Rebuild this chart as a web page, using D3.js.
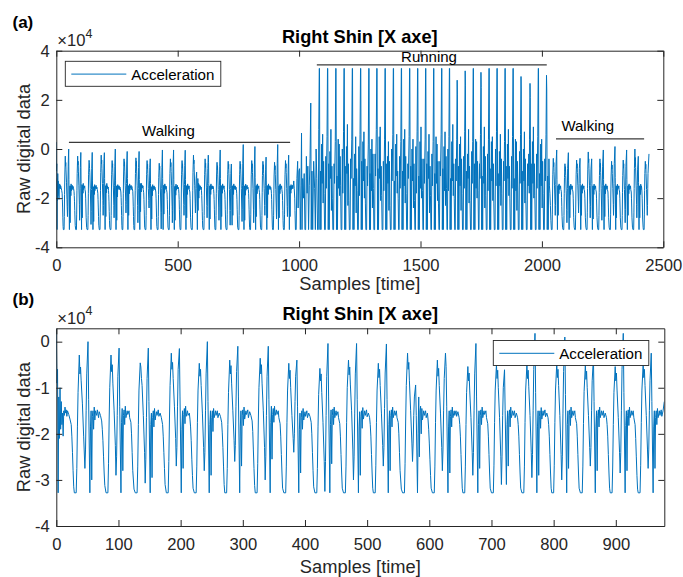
<!DOCTYPE html>
<html><head><meta charset="utf-8">
<script src="https://cdn.jsdelivr.net/npm/d3@7"></script>
<style>
html,body{margin:0;padding:0;background:#fff;}
svg{display:block;font-family:"Liberation Sans",Arial,Helvetica,sans-serif;}
</style></head><body>
<svg id="fig" width="683" height="577"></svg>
<script>
// Right shin accelerometer, X axis.
// Flat lists of [sample, value] pairs; values are in units of 100 counts.
const walking1 = [
0,28, 1,-90, 2,-60, 3,-328, 4,-120, 5,-210, 6,-100, 7,-190, 8,-130, 9,-180, 10,-155, 11,-205, 12,-150, 13,-160, 14,-142, 15,-155, 16,-148, 17,-162, 18,-150, 20,-158, 22,-168, 24,-180, 25,-205, 26,-240, 27,-280, 28,-315,
29,-328, 32,-328, 33,-275, 34,-185, 35,-110, 37,-29, 38,-70, 39,-55, 40,-85, 42,-135, 44,-205, 46,-275, 47,-235, 48,-150, 49,-70, 51,0, 52,-125, 54,-328, 55,-185, 56,-150, 57,-300, 58,-162, 59,-150, 60,-190, 61,-142, 62,-170, 63,-150, 65,-160, 66,-148, 68,-165, 69,-152, 71,-160, 73,-172, 74,-190, 75,-215, 76,-250, 77,-285, 78,-312,
80,-328, 83,-328, 84,-265, 85,-170, 86,-100, 88,-29, 89,-65, 90,-50, 91,-90, 93,-150, 95,-225, 96,-290, 97,-250, 98,-160, 99,-75, 101,-14, 102,-140, 104,-328, 105,-175, 106,-145, 107,-280, 108,-160, 109,-148, 110,-180, 111,-140, 112,-165, 114,-150, 115,-158, 117,-150, 118,-165, 120,-175, 121,-200, 122,-240, 123,-280, 125,-320,
127,-328, 130,-328, 131,-270, 132,-180, 133,-105, 135,-46, 136,-55, 137,-80, 138,-95, 140,-160, 142,-240, 143,-307, 144,-255, 145,-165, 146,-80, 148,-14, 149,-130, 151,-328, 152,-180, 153,-155, 154,-295, 155,-165, 156,-150, 157,-185, 158,-145, 159,-170, 161,-152, 162,-160, 164,-148, 165,-162, 167,-155, 169,-165, 171,-180, 172,-205, 173,-240, 174,-275, 175,-310,
177,-328, 180,-328, 181,-260, 182,-170, 183,-95, 185,-25, 186,-60, 187,-45, 188,-80, 190,-140, 192,-210, 193,-270, 194,-230, 195,-140, 196,-60, 198,-15, 199,-120, 201,-328, 202,-190, 203,-150, 204,-275, 205,-158, 206,-145, 207,-178, 208,-140, 209,-162, 211,-150, 212,-160, 214,-155, 215,-168, 216,-185, 217,-215, 218,-255, 219,-290, 220,-318,
222,-328, 225,-328, 226,-270, 227,-175, 228,-105, 230,-47, 231,-75, 232,-60, 233,-95, 235,-155, 237,-230, 238,-280, 239,-240, 240,-150, 241,-70, 243,0, 244,-130, 246,-328, 247,-180, 248,-150, 249,-290, 250,-165, 251,-150, 252,-195, 253,-145, 254,-165, 256,-150, 257,-160, 259,-150, 260,-165, 262,-155, 264,-162, 266,-175, 267,-198, 268,-230, 269,-270, 270,-310,
271,-328, 274,-328, 275,-275, 276,-180, 277,-110, 279,-40, 280,-70, 281,-52, 282,-90, 284,-150, 286,-215, 287,-260, 288,-225, 289,-140, 290,-65, 292,-10, 293,-120, 295,-328, 296,-185, 297,-150, 298,-270, 299,-160, 300,-148, 301,-182, 302,-142, 303,-168, 305,-150, 306,-158, 308,-148, 309,-165, 311,-152, 313,-160, 315,-172, 316,-195, 317,-235, 318,-275, 319,-312,
320,-328, 323,-328, 324,-265, 325,-170, 326,-100, 328,-36, 329,-70, 330,-50, 331,-90, 333,-150, 335,-230, 336,-300, 337,-250, 338,-160, 339,-75, 341,-10, 342,-125, 344,-328, 345,-175, 346,-140, 347,-255, 348,-158, 349,-145, 350,-175, 351,-140, 352,-160, 354,-148, 355,-158, 357,-150, 358,-165, 360,-178, 361,-205, 362,-245, 363,-285, 364,-318,
366,-328, 369,-328, 370,-270, 371,-175, 372,-105, 374,-47, 375,-80, 376,-62, 377,-100, 379,-160, 381,-210, 382,-240, 383,-200, 384,-130, 385,-75, 387,-40, 388,-140, 390,-328, 391,-190, 392,-155, 393,-285, 394,-165, 395,-150, 396,-190, 397,-145, 398,-170, 400,-152, 401,-162, 403,-150, 404,-165, 406,-155, 408,-162, 410,-175, 411,-200, 412,-240, 413,-280, 414,-315,
416,-328, 419,-328, 420,-275, 421,-185, 422,-115, 424,-58, 425,-85, 426,-70, 427,-110, 429,-175, 431,-260, 432,-325, 433,-260, 434,-160, 435,-75, 437,-4, 438,-120, 440,-328, 441,-180, 442,-148, 443,-265, 444,-160, 445,-146, 446,-180, 447,-142, 448,-165, 450,-150, 451,-160, 453,-152, 454,-165, 456,-178, 457,-205, 458,-245, 459,-285, 460,-318,
462,-328, 465,-328, 466,-270, 467,-175, 468,-100, 470,-40, 471,-72, 472,-55, 473,-92, 475,-150, 477,-235, 478,-300, 479,-250, 480,-155, 481,-70, 483,-4, 484,-125, 486,-328, 487,-185, 488,-152, 489,-290, 490,-162, 491,-150, 492,-188, 493,-143, 494,-168, 496,-150, 497,-160, 499,-148, 500,-163, 502,-155, 504,-165, 505,-180, 506,-205, 507,-245, 508,-285, 509,-318,
510,-328, 513,-328, 514,-268, 515,-175, 516,-105, 518,-47, 519,-78, 520,-60, 521,-95, 523,-155, 525,-225, 526,-270, 527,-230, 528,-145, 529,-68, 531,-5, 532,-125, 534,-328, 535,-180, 536,-150, 537,-280, 538,-160, 539,-148, 540,-185, 541,-142, 542,-165, 544,-150, 545,-160, 547,-150, 548,-165, 550,-175, 551,-200, 552,-240, 553,-280, 555,-320,
557,-328, 560,-328, 561,-265, 562,-170, 563,-95, 565,-25, 566,-60, 567,-45, 568,-85, 570,-150, 572,-220, 573,-260, 574,-220, 575,-160, 576,-120, 578,-94, 579,-160, 581,-328, 582,-200, 583,-120, 584,-250, 585,-150, 586,-140, 587,-200, 588,-145, 589,-170, 591,-150, 592,-160, 594,-150, 595,-165, 597,-155, 598,-170, 599,-190, 600,-220, 601,-255, 602,-290, 603,-318,
605,-328, 608,-328, 609,-270, 610,-175, 611,-105, 613,-40, 614,-75, 615,-58, 616,-95, 618,-155, 620,-230, 621,-280, 622,-235, 623,-150, 624,-80, 626,-25, 627,-54, 628,-140, 630,-328, 631,-185, 632,-150, 633,-285, 634,-162, 635,-148, 636,-185, 637,-142, 638,-165, 640,-150, 641,-160, 643,-150, 644,-162, 646,-152, 648,-165, 649,-180, 650,-205, 651,-245, 652,-285, 653,-318,
654,-328, 657,-328, 658,-270, 659,-180, 660,-110, 662,-54, 663,-85, 664,-68, 665,-105, 667,-165, 669,-240, 670,-290, 671,-240, 672,-150, 673,-70, 675,-4, 676,-120, 678,-328, 679,-180, 680,-150, 681,-275, 682,-160, 683,-148, 684,-180, 685,-142, 686,-165, 688,-150, 689,-158, 691,-150, 692,-165, 694,-178, 695,-205, 696,-245, 697,-285, 698,-318,
700,-328, 703,-328, 704,-268, 705,-175, 706,-105, 708,-50, 709,-80, 710,-62, 711,-100, 713,-165, 715,-250, 716,-310, 717,-250, 718,-160, 719,-100, 721,-61, 722,-150, 724,-310, 725,-180, 726,-150, 727,-270, 728,-160, 729,-148, 730,-185, 731,-142, 732,-165, 734,-150, 735,-160, 737,-150, 738,-165, 740,-155, 742,-165, 743,-180, 744,-205, 745,-245, 746,-285, 747,-318,
749,-328, 752,-328, 753,-270, 754,-175, 755,-105, 757,-50, 758,-80, 759,-62, 760,-98, 762,-160, 764,-240, 765,-295, 766,-245, 767,-150, 768,-60, 770,18, 771,-110, 773,-328, 774,-185, 775,-150, 776,-290, 777,-162, 778,-150, 779,-188, 780,-143, 781,-168, 783,-150, 784,-160, 786,-148, 787,-163, 789,-155, 791,-165, 792,-180, 793,-205, 794,-245, 795,-285, 796,-318,
797,-328, 800,-328, 801,-268, 802,-175, 803,-105, 805,-47, 806,-78, 807,-60, 808,-95, 810,-160, 812,-245, 813,-300, 814,-250, 815,-155, 816,-65, 818,10, 819,-115, 821,-328, 822,-180, 823,-150, 824,-275, 825,-160, 826,-148, 827,-182, 828,-142, 829,-165, 831,-150, 832,-160, 834,-150, 835,-165, 837,-178, 838,-205, 839,-245, 840,-285, 841,-318,
843,-328, 846,-328, 847,-270, 848,-178, 849,-108, 851,-50, 852,-82, 853,-64, 854,-100, 856,-160, 858,-230, 859,-270, 860,-230, 861,-150, 862,-85, 864,-33, 865,-130, 867,-328, 868,-185, 869,-150, 870,-280, 871,-160, 872,-148, 873,-185, 874,-142, 875,-165, 877,-150, 878,-160, 880,-150, 881,-165, 883,-155, 885,-165, 886,-180, 887,-205, 888,-245, 889,-285, 890,-318,
891,-328, 894,-328, 895,-272, 896,-180, 897,-110, 899,-54, 900,-85, 901,-68, 902,-105, 904,-165, 906,-240, 907,-285, 908,-240, 909,-150, 910,-60, 912,18, 913,-110, 915,-328, 916,-182, 917,-150, 918,-280, 919,-160, 920,-148, 921,-182, 922,-142, 923,-165, 925,-150, 926,-160, 928,-150, 929,-165, 931,-180, 932,-210, 933,-250, 934,-290, 935,-320,
936,-328, 939,-328, 940,-268, 941,-175, 942,-105, 944,-47, 945,-78, 946,-60, 947,-95, 949,-160, 951,-235, 952,-275, 953,-235, 954,-150, 955,-85, 957,-25, 958,-130, 960,-328, 961,-185, 962,-150, 963,-275, 964,-165, 965,-150, 966,-180, 967,-145, 968,-165, 970,-150, 971,-160, 973,-148, 974,-162, 976,-150, 978,-130
];
const running = [
980,-160, 982,-200, 983,-250, 985,-328, 988,-328, 991,-120, 994,-50, 996,-240, 999,-90, 1002,-80, 1005,-328, 1008,-150, 1010,65, 1012,-328, 1015,-120, 1018,-200, 1021,-100, 1024,-328, 1027,-328, 1030,-30, 1033,-180, 1036,-70, 1039,-328, 1042,-150, 1045,-40, 1048,187, 1050,-328, 1053,-90, 1056,-328, 1060,-50, 1064,-160, 1067,-328, 1070,0, 1073,-120, 1076,-328, 1079,-328, 1081,80,
1083,328, 1084,328, 1086,-328, 1088,-90, 1090,-328, 1093,20, 1095,-140, 1097,60, 1099,-220, 1101,-50, 1103,-180, 1105,-328, 1108,-328, 1110,-30, 1112,-160, 1115,50,
1117,328, 1118,328, 1120,-328, 1122,-60, 1124,-328, 1127,-10, 1129,-120, 1131,80, 1133,-250, 1135,-70, 1137,-200, 1139,-328, 1142,-328, 1144,-60, 1146,-140, 1149,30,
1151,328, 1152,328, 1154,-328, 1156,-110, 1158,-328, 1161,40, 1163,-160, 1165,20, 1167,-190, 1169,-30, 1171,-150, 1173,-328, 1176,-328, 1178,0, 1180,-180, 1183,70,
1185,328, 1186,328, 1188,-328, 1190,-70, 1192,-328, 1195,10, 1197,-100, 1199,100, 1201,-230, 1203,-60, 1205,-210, 1207,-328, 1210,-328, 1212,-40, 1214,-120, 1217,40,
1219,328, 1220,328, 1222,-328, 1224,-120, 1226,-328, 1229,-20, 1231,-150, 1233,50, 1235,-260, 1237,-80, 1239,-170, 1241,-328, 1244,-328, 1246,10, 1248,-190, 1251,60,
1253,328, 1254,328, 1256,-328, 1258,-50, 1260,-328, 1263,30, 1265,-130, 1267,70, 1269,-200, 1271,-40, 1273,-220, 1275,-328, 1278,-328, 1280,-70, 1282,-150, 1285,20,
1287,328, 1288,328, 1290,-328, 1292,-100, 1294,-328, 1296,0, 1298,-170, 1300,40, 1302,-240, 1304,-20, 1306,-160, 1308,-328, 1311,-328, 1313,-20, 1315,-110, 1318,80,
1320,328, 1321,328, 1323,-328, 1325,-80, 1327,-328, 1330,50, 1332,-120, 1334,90, 1336,-210, 1338,-70, 1340,-190, 1342,-328, 1345,-328, 1347,-50, 1349,-170, 1352,40,
1354,328, 1355,328, 1357,-328, 1359,-60, 1361,-328, 1364,-30, 1366,-140, 1368,30, 1370,-250, 1372,-50, 1374,-230, 1376,-328, 1379,-328, 1381,0, 1383,-130, 1386,60,
1388,328, 1389,328, 1391,-328, 1393,-130, 1395,-328, 1398,20, 1400,-110, 1402,60, 1404,-180, 1406,-90, 1408,-200, 1410,-328, 1412,-328, 1414,-30, 1416,-160, 1419,30,
1421,328, 1422,328, 1424,-328, 1426,-90, 1428,-328, 1431,40, 1433,-150, 1435,80, 1437,-220, 1439,-30, 1441,-180, 1443,-328, 1446,-328, 1448,-60, 1450,-120, 1453,50,
1455,328, 1456,328, 1458,-328, 1460,-70, 1462,-328, 1465,0, 1467,-130, 1469,40, 1471,-240, 1473,-60, 1475,-210, 1477,-328, 1479,-328, 1481,10, 1483,-180, 1486,70,
1488,328, 1489,328, 1491,-328, 1493,-110, 1495,-328, 1498,30, 1500,-160, 1502,90, 1504,-200, 1506,-40, 1508,-170, 1510,-328, 1512,-328, 1514,-40, 1516,-140, 1519,40,
1521,328, 1522,328, 1524,-328, 1526,-60, 1528,-328, 1531,-10, 1533,-120, 1535,60, 1537,-260, 1539,-70, 1541,-190, 1543,-328, 1545,-328, 1547,-20, 1549,-150, 1552,30,
1554,328, 1555,328, 1557,-328, 1559,-100, 1561,-328, 1564,50, 1566,-140, 1568,20, 1570,-210, 1572,-50, 1574,-220, 1576,-328, 1578,-328, 1580,-50, 1582,-110, 1585,60,
1587,328, 1588,328, 1590,-328, 1592,-80, 1594,-328, 1597,10, 1599,-170, 1601,70, 1603,-230, 1605,-30, 1607,-160, 1609,-328, 1611,-328, 1613,0, 1615,-170, 1617,50,
1619,328, 1620,328, 1622,-328, 1624,-120, 1626,-328, 1629,30, 1631,-130, 1633,100, 1635,-190, 1637,-60, 1639,-200, 1641,-328, 1643,-328, 1645,-40, 1647,-130, 1649,40,
1651,280, 1652,220, 1654,-328, 1656,-70, 1658,-328, 1661,20, 1663,-150, 1665,50, 1667,-250, 1669,-40, 1671,-180, 1673,-328, 1676,-328, 1678,-30, 1680,-160, 1682,70,
1684,318, 1685,260, 1687,-328, 1689,-90, 1691,-328, 1694,-20, 1696,-120, 1698,80, 1700,-220, 1702,-70, 1704,-210, 1706,-328, 1709,-328, 1711,-10, 1713,-140, 1715,30,
1717,328, 1718,328, 1720,-328, 1722,-60, 1724,-328, 1727,40, 1729,-160, 1731,30, 1733,-200, 1735,-50, 1737,-170, 1739,-328, 1741,-328, 1743,-60, 1745,-120, 1747,60,
1749,312, 1750,250, 1752,-328, 1754,-110, 1756,-328, 1759,10, 1761,-140, 1763,90, 1765,-240, 1767,-30, 1769,-190, 1771,-328, 1774,-328, 1776,-20, 1778,-170, 1780,40,
1782,328, 1783,328, 1785,-328, 1787,-80, 1789,-328, 1792,30, 1794,-130, 1796,50, 1798,-210, 1800,-60, 1802,-220, 1804,-328, 1807,-328, 1809,0, 1811,-150, 1813,70,
1815,328, 1816,328, 1818,-328, 1820,-100, 1822,-328, 1825,-10, 1827,-150, 1829,60, 1831,-230, 1833,-40, 1835,-180, 1837,-328, 1840,-328, 1842,-50, 1844,-130, 1846,30,
1848,328, 1849,328, 1851,-328, 1853,-70, 1855,-328, 1858,20, 1860,-120, 1862,80, 1864,-190, 1866,-70, 1868,-200, 1870,-328, 1873,-328, 1875,-30, 1877,-160, 1879,50,
1881,328, 1882,328, 1884,-328, 1886,-120, 1888,-328, 1891,40, 1893,-170, 1895,30, 1897,-250, 1899,-50, 1901,-170, 1903,-328, 1906,-328, 1908,-10, 1910,-140, 1912,60,
1914,295, 1915,240, 1917,-328, 1919,-90, 1921,-328, 1924,0, 1926,-130, 1928,70, 1930,-220, 1932,-40, 1934,-210, 1936,-328, 1939,-328, 1941,-60, 1943,-150, 1946,-20, 1948,-180, 1949,40,
1951,267, 1952,210, 1954,-328, 1956,-60, 1958,-328, 1961,30, 1963,-140, 1965,90, 1967,-200, 1969,-60, 1971,-190, 1973,-328, 1976,-328, 1978,-20, 1980,-160, 1983,50,
1985,328, 1986,328, 1988,-328, 1990,-100, 1992,-328, 1995,20, 1997,-150, 1999,40, 2001,-240, 2003,-50, 2005,-180, 2007,-328, 2010,-328, 2012,-40, 2014,-130, 2017,60,
2019,300, 2020,240, 2022,-328, 2024,-110, 2026,-328, 2029,-40, 2031,-150, 2033,-180, 2035,-230, 2037,-290
];
const walking2 = [
2039,-328, 2042,-328, 2043,-265, 2044,-175, 2045,-105, 2047,-38, 2048,-72, 2049,-55, 2050,-92, 2052,-150, 2054,-225, 2055,-270, 2056,-230, 2057,-145, 2058,-70, 2061,-4, 2062,-125, 2064,-328, 2065,-180, 2066,-150, 2067,-270, 2068,-160, 2069,-148, 2070,-182, 2071,-142, 2072,-165, 2074,-150, 2075,-160, 2077,-150, 2078,-165, 2080,-172, 2081,-198, 2082,-235, 2083,-275, 2085,-318,
2087,-328, 2090,-328, 2091,-270, 2092,-180, 2093,-115, 2095,-60, 2096,-90, 2097,-72, 2098,-108, 2100,-170, 2102,-245, 2103,-300, 2104,-250, 2105,-160, 2106,-80, 2109,-15, 2110,-130, 2112,-328, 2113,-185, 2114,-150, 2115,-280, 2116,-162, 2117,-150, 2118,-185, 2119,-143, 2120,-165, 2122,-150, 2123,-160, 2125,-150, 2126,-165, 2128,-175, 2129,-200, 2130,-240, 2131,-280, 2133,-318,
2135,-328, 2138,-328, 2139,-268, 2140,-175, 2141,-105, 2143,-45, 2144,-78, 2145,-60, 2146,-95, 2148,-150, 2150,-215, 2151,-260, 2152,-220, 2153,-140, 2154,-80, 2157,-38, 2158,-140, 2160,-328, 2161,-180, 2162,-150, 2163,-270, 2164,-160, 2165,-148, 2166,-180, 2167,-142, 2168,-165, 2170,-150, 2171,-160, 2173,-150, 2174,-165, 2176,-175, 2177,-200, 2178,-240, 2179,-280, 2181,-318,
2183,-328, 2186,-328, 2187,-260, 2188,-160, 2189,-85, 2191,-12, 2192,-55, 2193,-40, 2194,-80, 2196,-150, 2198,-225, 2199,-280, 2200,-235, 2201,-150, 2202,-85, 2205,-40, 2206,-140, 2208,-328, 2209,-185, 2210,-150, 2211,-285, 2212,-162, 2213,-150, 2214,-185, 2215,-143, 2216,-165, 2218,-150, 2219,-160, 2221,-150, 2222,-165, 2224,-175, 2225,-200, 2226,-240, 2227,-280, 2229,-318,
2231,-328, 2234,-328, 2235,-270, 2236,-178, 2237,-108, 2239,-40, 2240,-75, 2241,-58, 2242,-95, 2244,-160, 2246,-240, 2247,-290, 2248,-240, 2249,-150, 2250,-70, 2253,-4, 2254,-125, 2256,-328, 2257,-180, 2258,-150, 2259,-275, 2260,-160, 2261,-148, 2262,-182, 2263,-142, 2264,-165, 2266,-150, 2267,-160, 2269,-150, 2270,-165, 2272,-175, 2273,-200, 2274,-240, 2275,-280, 2277,-318,
2279,-328, 2282,-328, 2283,-268, 2284,-175, 2285,-110, 2287,-50, 2288,-82, 2289,-65, 2290,-100, 2292,-160, 2294,-225, 2295,-270, 2296,-225, 2297,-140, 2298,-60, 2301,10, 2302,-115, 2304,-328, 2305,-185, 2306,-150, 2307,-280, 2308,-162, 2309,-150, 2310,-185, 2311,-143, 2312,-165, 2314,-150, 2315,-160, 2317,-150, 2318,-165, 2320,-175, 2321,-200, 2322,-240, 2323,-280, 2325,-318,
2327,-328, 2330,-328, 2331,-270, 2332,-178, 2333,-108, 2335,-45, 2336,-78, 2337,-60, 2338,-98, 2340,-165, 2342,-245, 2343,-300, 2344,-245, 2345,-150, 2346,-70, 2349,-4, 2350,-125, 2352,-328, 2353,-180, 2354,-150, 2355,-270, 2356,-160, 2357,-148, 2358,-182, 2359,-142, 2360,-165, 2362,-150, 2363,-160, 2365,-150, 2366,-165, 2368,-175, 2369,-200, 2370,-240, 2371,-280, 2373,-318,
2375,-328, 2378,-328, 2379,-260, 2380,-160, 2381,-80, 2383,0, 2384,-50, 2385,-35, 2386,-75, 2388,-150, 2390,-225, 2391,-280, 2392,-235, 2393,-150, 2394,-85, 2397,-30, 2398,-135, 2400,-328, 2401,-185, 2402,-150, 2403,-280, 2404,-162, 2405,-150, 2406,-185, 2407,-143, 2408,-165, 2410,-150, 2411,-160, 2412,-175, 2413,-200, 2414,-240, 2415,-285, 2417,-320,
2418,-328, 2421,-328, 2422,-265, 2423,-170, 2424,-100, 2426,-50, 2427,-80, 2428,-62, 2429,-100, 2431,-165, 2433,-240, 2434,-270, 2435,-230, 2436,-160, 2437,-100, 2441,-20
];

// Activity phases marked over the full recording (sample ranges).
const phaseNames = ["Walking", "Running", "Walking"];
const phaseStart = [52, 1073, 2058];
const phaseEnd = [963, 2020, 2421];
const phaseLabelAt = [462, 1535, 2189];

const seriesName = "Acceleration";
const xTicksA = [0, 500, 1000, 1500, 2000, 2500];
const yTicksA = [-4, -2, 0, 2, 4];
const xTicksB = [0, 100, 200, 300, 400, 500, 600, 700, 800, 900];
const yTicksB = [-4, -3, -2, -1, 0];

const toPoints = a => d3.range(0, a.length, 2).map(i => ({ s: a[i], v: a[i + 1] / 100 }));
const allPoints = toPoints(walking1.concat(running, walking2));
const zoomPoints = toPoints(walking1);

const svg = d3.select("#fig");
const ink = "#262626";
const lineColor = "#0072BD";
const tickFont = 16.6, labelFont = 18.3, titleFont = 18.2, legendFont = 15.1;

function panel(o) {
  const x = d3.scaleLinear().domain(o.xDomain).range([o.left, o.right]);
  const y = d3.scaleLinear().domain(o.yDomain).range([o.bottom, o.top]);
  const g = svg.append("g");

  svg.append("clipPath").attr("id", "clip-" + o.id).append("rect")
    .attr("x", o.left).attr("y", o.top)
    .attr("width", o.right - o.left).attr("height", o.bottom - o.top);

  g.append("path").datum(o.points)
    .attr("clip-path", `url(#clip-${o.id})`)
    .attr("fill", "none").attr("stroke", lineColor).attr("stroke-width", 1)
    .attr("stroke-linejoin", "round")
    .attr("d", d3.line().x(d => x(d.s)).y(d => y(d.v)));

  const fmt = d => String(d);
  const axes = [
    [d3.axisBottom(x).tickValues(o.xTicks).tickPadding(12.4).tickFormat(fmt), `translate(0,${o.bottom})`],
    [d3.axisTop(x).tickValues(o.xTicks).tickFormat(() => ""), `translate(0,${o.top})`],
    [d3.axisLeft(y).tickValues(o.yTicks).tickPadding(6.5).tickFormat(fmt), `translate(${o.left},0)`],
    [d3.axisRight(y).tickValues(o.yTicks).tickFormat(() => ""), `translate(${o.right},0)`]
  ];
  axes.forEach(([gen, tr]) => {
    const a = g.append("g").attr("transform", tr)
      .call(gen.tickSizeInner(-6).tickSizeOuter(0));
    a.attr("font-family", null).attr("font-size", null);
    a.select(".domain").attr("stroke", ink).attr("stroke-width", 1);
    a.selectAll(".tick line").attr("stroke", ink).attr("stroke-width", 1);
    a.selectAll(".tick text").attr("fill", ink).attr("font-size", tickFont);
  });

  // exponent
  const ex = g.append("text").attr("x", o.left + 1).attr("y", o.top - 4.5)
    .attr("fill", ink).attr("font-size", tickFont);
  ex.append("tspan").text("\u00d710");
  ex.append("tspan").attr("font-size", 12.5).attr("dy", -8.5).text("4");

  g.append("text").attr("x", (o.left + o.right) / 2).attr("y", o.top - 8)
    .attr("text-anchor", "middle").attr("font-weight", "bold")
    .attr("font-size", titleFont).attr("fill", "#000").text("Right Shin [X axe]");

  g.append("text").attr("x", (o.left + o.right) / 2).attr("y", o.bottom + o.labelGap)
    .attr("text-anchor", "middle").attr("font-size", labelFont).attr("fill", ink)
    .text("Samples [time]");

  g.append("text")
    .attr("transform", `translate(29.5,${(o.top + o.bottom) / 2}) rotate(-90)`)
    .attr("text-anchor", "middle").attr("font-size", labelFont).attr("fill", ink)
    .text("Raw digital data");

  g.append("text").attr("x", 12.5).attr("y", o.top - 23)
    .attr("font-weight", "bold").attr("font-size", 17).attr("fill", "#000")
    .text(o.tag);

  // legend
  const L = o.legend;
  const lg = g.append("g");
  lg.append("rect").attr("x", L.x).attr("y", L.y).attr("width", 155.5).attr("height", 25)
    .attr("fill", "#fff").attr("stroke", ink).attr("stroke-width", 0.9);
  lg.append("line").attr("x1", L.x + 6).attr("x2", L.x + 61)
    .attr("y1", L.y + 12.8).attr("y2", L.y + 12.8)
    .attr("stroke", lineColor).attr("stroke-width", 1);
  lg.append("text").attr("x", L.x + 66).attr("y", L.y + 18.2)
    .attr("font-size", legendFont).attr("fill", "#000").text(seriesName);

  return { x, y, g };
}

const A = panel({
  id: "a", tag: "(a)", left: 56.3, right: 663.3, top: 50.7, bottom: 247.3, labelGap: 42.5,
  xDomain: [0, 2500], yDomain: [-4, 4], xTicks: xTicksA, yTicks: yTicksA,
  points: allPoints, legend: { x: 65.3, y: 61.3 }
});

const B = panel({
  id: "b", tag: "(b)", left: 56.3, right: 664.3, top: 328.3, bottom: 526, labelGap: 46.5,
  xDomain: [0, 978], yDomain: [-4, 0.29], xTicks: xTicksB, yTicks: yTicksB,
  points: zoomPoints, legend: { x: 493.3, y: 340.5 }
});

// Phase brackets over the full recording (line level, label level in data units)
const lineLevel = [0.27, 3.42, 0.41];
const labelLevel = [0.53, 3.52, 0.73];
phaseNames.forEach((name, i) => {
  A.g.append("line")
    .attr("x1", A.x(phaseStart[i])).attr("x2", A.x(phaseEnd[i]))
    .attr("y1", A.y(lineLevel[i])).attr("y2", A.y(lineLevel[i]))
    .attr("stroke", "#3a3a3a").attr("stroke-width", 1.2);
  A.g.append("text")
    .attr("x", A.x(phaseLabelAt[i])).attr("y", A.y(labelLevel[i]))
    .attr("text-anchor", "middle").attr("font-size", 15).attr("fill", "#000")
    .text(name);
});
</script>
</body></html>
